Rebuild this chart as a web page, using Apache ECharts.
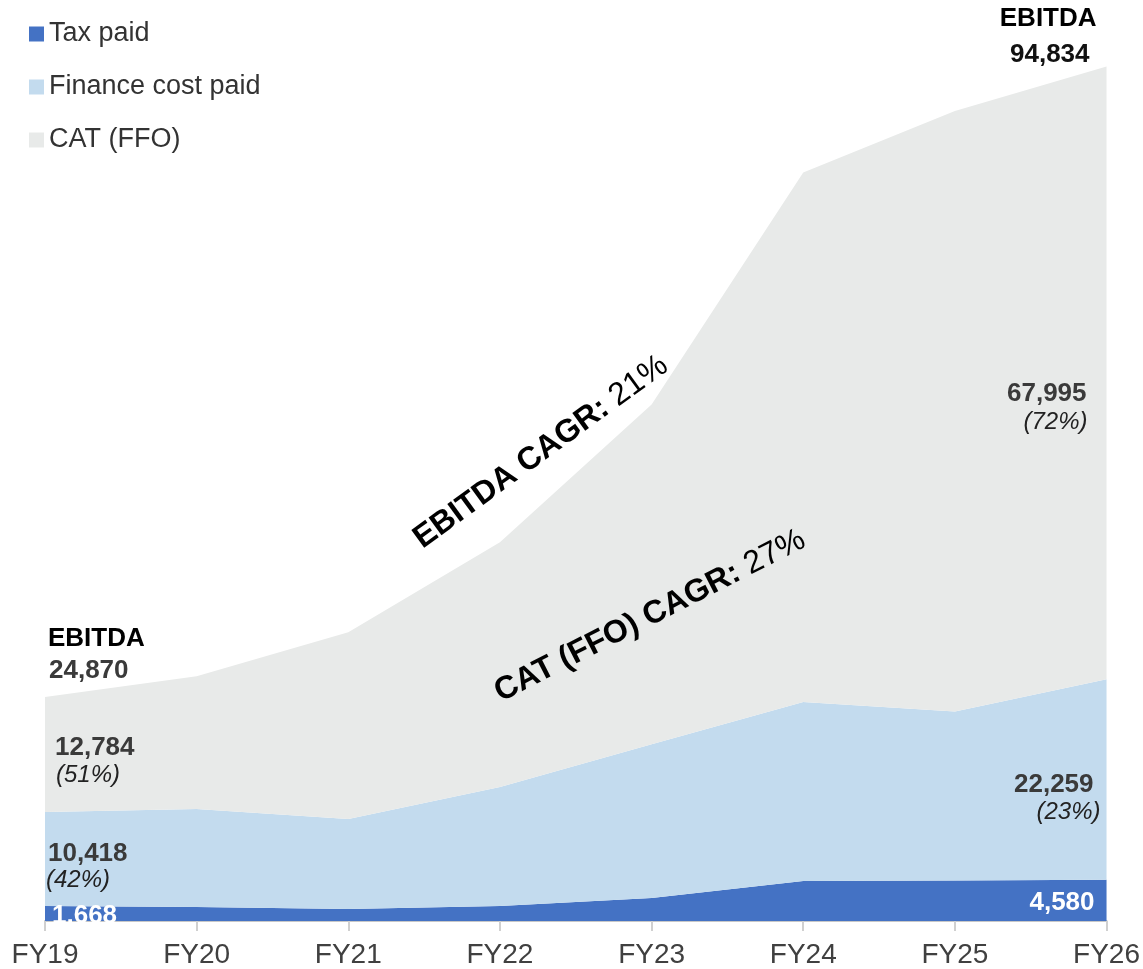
<!DOCTYPE html>
<html>
<head>
<meta charset="utf-8">
<script src="https://cdn.jsdelivr.net/npm/echarts@6/dist/echarts.min.js"></script>
<style>
    html, body { margin: 0; padding: 0; background: #fff; }
    #chart { width: 1143px; height: 969px; }
</style>
</head>
<body>
<div id="chart"></div>
<script>
const years = ['FY19', 'FY20', 'FY21', 'FY22', 'FY23', 'FY24', 'FY25', 'FY26'];
const taxPaid = [1668, 1550, 1330, 1660, 2550, 4450, 4500, 4580];
const financeCost = [10418, 10870, 9980, 13200, 17080, 19850, 18740, 22259];
const catFfo = [12784, 14750, 20740, 27170, 37700, 58780, 66650, 67995];
const ebitdaCagr = '21%';
const catCagr = '27%';

const FONT = 'Liberation Sans, Arial, sans-serif';
const colors = ['#4472C4', '#C3DBEE', '#E8EAE9'];

const ebitda = years.map((_, i) => taxPaid[i] + financeCost[i] + catFfo[i]);
const fmt = v => v.toLocaleString('en-US');
const pct = (v, i) => '(' + Math.round(v / ebitda[i] * 100) + '%)';

const chart = echarts.init(document.getElementById('chart'));

const areaSeries = (name, data, color) => ({
    name: name,
    type: 'line',
    stack: 'total',
    data: data,
    color: color,
    symbol: 'none',
    lineStyle: { width: 0 },
    areaStyle: { color: color, opacity: 1 },
    emphasis: { disabled: true }
});

chart.setOption({
    animation: false,
    textStyle: { fontFamily: FONT },
    grid: { left: 45, right: 36, top: 20, bottom: 47 },
    legend: {
        orient: 'vertical',
        left: 29,
        top: 19,
        padding: 0,
        icon: 'rect',
        itemWidth: 15,
        itemHeight: 15,
        itemGap: 23,
        textStyle: { fontSize: 27, color: '#333', lineHeight: 30, fontFamily: FONT },
        data: ['Tax paid', 'Finance cost paid', 'CAT (FFO)']
    },
    xAxis: {
        type: 'category',
        data: years,
        boundaryGap: false,
        axisLine: { lineStyle: { color: '#C8C8C8', width: 2 } },
        axisTick: { show: true, length: 10, lineStyle: { color: '#D0D0D0', width: 2 } },
        axisLabel: { fontSize: 28, color: '#404040', margin: 20, fontFamily: FONT }
    },
    yAxis: {
        type: 'value',
        min: 0,
        max: 100000,
        show: false,
        splitLine: { show: false }
    },
    series: [
        areaSeries('Tax paid', taxPaid, colors[0]),
        areaSeries('Finance cost paid', financeCost, colors[1]),
        areaSeries('CAT (FFO)', catFfo, colors[2])
    ]
});

// labels anchored on the data points
const px = (i, v) => chart.convertToPixel({ gridIndex: 0 }, [i, v]);
const last = years.length - 1;

function segMid(i, k) {
    const lo = [0, taxPaid[i], taxPaid[i] + financeCost[i]][k];
    const hi = lo + [taxPaid, financeCost, catFfo][k][i];
    return px(i, (lo + hi) / 2);
}

function txt(x, y, text, align, opts) {
    return {
        type: 'text',
        x: x,
        y: y,
        z: 10,
        style: Object.assign({
            text: text,
            align: align,
            verticalAlign: 'middle',
            fontFamily: FONT,
            fontSize: 26,
            fontWeight: 'bold',
            fill: '#3a3a3a'
        }, opts || {})
    };
}
const italic = { fontWeight: 'normal', fontStyle: 'italic', fontSize: 24, fill: '#222' };

const top0 = px(0, ebitda[0]);
const topN = px(last, ebitda[last]);
const cat0 = segMid(0, 2), fin0 = segMid(0, 1), tax0 = segMid(0, 0);
const catN = segMid(last, 2), finN = segMid(last, 1), taxN = segMid(last, 0);

const graphics = [
    txt(top0[0] + 3, top0[1] - 58, 'EBITDA', 'left', { fill: '#000' }),
    txt(top0[0] + 4, top0[1] - 26, fmt(ebitda[0]), 'left'),
    txt(cat0[0] + 10, cat0[1] - 7, fmt(catFfo[0]), 'left'),
    txt(cat0[0] + 11, cat0[1] + 21, pct(catFfo[0], 0), 'left', italic),
    txt(fin0[0] + 3, fin0[1] - 5, fmt(financeCost[0]), 'left'),
    txt(fin0[0] + 1, fin0[1] + 21, pct(financeCost[0], 0), 'left', italic),
    txt(tax0[0] + 7, tax0[1] + 2, fmt(taxPaid[0]), 'left', { fill: '#fff' }),

    txt(topN[0] - 10, topN[1] - 48, 'EBITDA', 'right', { fill: '#000' }),
    txt(topN[0] - 17, topN[1] - 12, fmt(ebitda[last]), 'right', { fill: '#111' }),
    txt(catN[0] - 20, catN[1] + 21, fmt(catFfo[last]), 'right'),
    txt(catN[0] - 19, catN[1] + 49, pct(catFfo[last], last), 'right', italic),
    txt(finN[0] - 13, finN[1] + 5, fmt(financeCost[last]), 'right'),
    txt(finN[0] - 6, finN[1] + 33, pct(financeCost[last], last), 'right', italic),
    txt(taxN[0] - 12, taxN[1] + 2, fmt(taxPaid[last]), 'right', { fill: '#fff' }),

    {
        type: 'text', x: 541, y: 452, z: 10,
        rotation: 36 * Math.PI / 180,
        style: {
            text: '{b|EBITDA CAGR: }{n|' + ebitdaCagr + '}',
            align: 'center', verticalAlign: 'middle',
            rich: {
                b: { fontFamily: FONT, fontSize: 32, fontWeight: 'bold', fill: '#000' },
                n: { fontFamily: FONT, fontSize: 32, fill: '#000' }
            }
        }
    },
    {
        type: 'text', x: 650, y: 616, z: 10,
        rotation: 27 * Math.PI / 180,
        style: {
            text: '{b|CAT (FFO) CAGR: }{n|' + catCagr + '}',
            align: 'center', verticalAlign: 'middle',
            rich: {
                b: { fontFamily: FONT, fontSize: 32, fontWeight: 'bold', fill: '#000' },
                n: { fontFamily: FONT, fontSize: 32, fill: '#000' }
            }
        }
    }
];

chart.setOption({ graphic: graphics });
</script>
</body>
</html>
